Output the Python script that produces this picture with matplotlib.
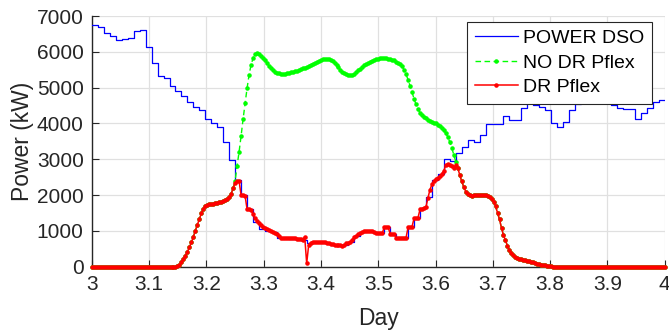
import numpy as np
import matplotlib
matplotlib.use("Agg")
import matplotlib.pyplot as plt

plt.rcParams['font.family'] = ['Liberation Sans', 'DejaVu Sans']

# ---------------- data ----------------
day_start = 3
dso_steps_per_day = 96      # 15-min steps
pflex_samples_per_day = 288  # 5-min samples

power_dso = [
    6750, 6700, 6530, 6440, 6320, 6350, 6380, 6570, 6620, 6130,
    5680, 5320, 5270, 5060, 4920, 4760, 4610, 4460, 4380, 4130,
    4020, 3890, 3490, 2980, 2420, 2000, 1620, 1257, 1060, 985,
    975, 795, 790, 785, 770, 740, 660, 690, 680, 650,
    620, 600, 600, 690, 870, 980, 1000, 970, 940, 1100,
    915, 810, 815, 1115, 1370, 1650, 1950, 2420, 2600, 3000,
    2960, 3167, 3335, 3539, 3492, 3670, 3978, 3978, 3978, 4210,
    4098, 4098, 4425, 4564, 4517, 4469, 4377, 4022, 3911, 4050,
    4380, 4540, 4650, 4720, 4780, 4740, 4680, 4515, 4420, 4400,
    4400, 4120, 4290, 4420, 4590, 4650,
]

nodr_pflex = [
    0, 0, 0, 0, 0, 0, 0, 0, 0, 0,
    0, 0, 0, 0, 0, 0, 0, 0, 0, 0,
    0, 0, 0, 0, 0, 0, 0, 0, 0, 0,
    0, 0, 0, 0, 0, 0, 0, 0, 0, 0,
    0, 0, 0, 12, 60, 130, 220, 310, 425, 540,
    680, 840, 1010, 1170, 1330, 1490, 1625, 1690, 1725, 1740,
    1752, 1765, 1775, 1785, 1795, 1810, 1835, 1865, 1905, 1955,
    2030, 2200, 2400, 2820, 3210, 3650, 4120, 4560, 4980, 5350,
    5630, 5820, 5930, 5960, 5930, 5880, 5830, 5760, 5680, 5610,
    5550, 5490, 5450, 5420, 5400, 5390, 5385, 5390, 5400, 5410,
    5425, 5440, 5455, 5470, 5490, 5510, 5535, 5560, 5587, 5615,
    5640, 5665, 5690, 5720, 5745, 5770, 5790, 5800, 5805, 5795,
    5775, 5740, 5690, 5630, 5570, 5500, 5440, 5400, 5370, 5350,
    5345, 5355, 5385, 5430, 5480, 5530, 5580, 5625, 5665, 5700,
    5730, 5755, 5775, 5795, 5810, 5820, 5822, 5820, 5815, 5805,
    5795, 5780, 5760, 5720, 5690, 5650, 5600, 5490, 5370, 5220,
    5050, 4870, 4690, 4530, 4400, 4300, 4230, 4180, 4140, 4110,
    4080, 4050, 4025, 4000, 3970, 3930, 3880, 3810, 3730, 3620,
    3480, 3310, 3130, 2930, 2760, 2560, 2380, 2230, 2100, 2030,
    1990, 1985, 1990, 1995, 2000, 2003, 2000, 1995, 1990, 1975,
    1950, 1890, 1810, 1690, 1500, 1320, 1080, 880, 740, 580,
    470, 390, 320, 275, 245, 222, 205, 190, 178, 165,
    150, 135, 120, 105, 90, 75, 62, 50, 38, 28,
    18, 10, 5, 2, 0, 0, 0, 0, 0, 0,
    0, 0, 0, 0, 0, 0, 0, 0, 0, 0,
    0, 0, 0, 0, 0, 0, 0, 0, 0, 0,
    0, 0, 0, 0, 0, 0, 0, 0, 0, 0,
    0, 0, 0, 0, 0, 0, 0, 0, 0, 0,
    0, 0, 0, 0, 0, 0, 0, 0, 0,
]

dr_pflex = [
    0, 0, 0, 0, 0, 0, 0, 0, 0, 0,
    0, 0, 0, 0, 0, 0, 0, 0, 0, 0,
    0, 0, 0, 0, 0, 0, 0, 0, 0, 0,
    0, 0, 0, 0, 0, 0, 0, 0, 0, 0,
    0, 0, 0, 12, 60, 130, 220, 310, 425, 540,
    680, 840, 1010, 1170, 1330, 1490, 1625, 1690, 1725, 1740,
    1752, 1765, 1775, 1785, 1795, 1810, 1835, 1865, 1905, 1955,
    2030, 2200, 2340, 2380, 2390, 2000, 1995, 1985, 1610, 1600,
    1590, 1460, 1360, 1290, 1230, 1160, 1110, 1072, 1040, 1015,
    990, 960, 935, 900, 850, 815, 800, 795, 793, 793,
    792, 790, 790, 788, 785, 775, 760, 838, 95, 606,
    670, 698, 695, 690, 688, 685, 682, 680, 670, 655,
    640, 625, 612, 606, 610, 600, 590, 600, 650, 670,
    690, 760, 830, 870, 905, 935, 965, 990, 1000, 1000,
    995, 985, 965, 950, 940, 935, 935, 1100, 1100, 1100,
    915, 912, 910, 810, 800, 805, 810, 810, 815, 1100,
    1110, 1120, 1350, 1360, 1370, 1600, 1620, 1650, 1670, 1920,
    2150, 2300, 2380, 2450, 2490, 2530, 2600, 2680, 2840, 2870,
    2850, 2810, 2760, 2840, 2760, 2560, 2380, 2230, 2100, 2030,
    1990, 1985, 1990, 1995, 2000, 2003, 2000, 1995, 1990, 1975,
    1950, 1890, 1810, 1690, 1500, 1320, 1080, 880, 740, 580,
    470, 390, 320, 275, 245, 222, 205, 190, 178, 165,
    150, 135, 120, 105, 90, 75, 62, 50, 38, 28,
    18, 10, 5, 2, 0, 0, 0, 0, 0, 0,
    0, 0, 0, 0, 0, 0, 0, 0, 0, 0,
    0, 0, 0, 0, 0, 0, 0, 0, 0, 0,
    0, 0, 0, 0, 0, 0, 0, 0, 0, 0,
    0, 0, 0, 0, 0, 0, 0, 0, 0, 0,
    0, 0, 0, 0, 0, 0, 0, 0, 0,
]

series_labels = ["POWER DSO", "NO DR Pflex", "DR Pflex"]
x_ticks = [3, 3.1, 3.2, 3.3, 3.4, 3.5, 3.6, 3.7, 3.8, 3.9, 4]
x_tick_labels = ["3", "3.1", "3.2", "3.3", "3.4", "3.5", "3.6", "3.7", "3.8", "3.9", "4"]
y_ticks = [0, 1000, 2000, 3000, 4000, 5000, 6000, 7000]
x_label = "Day"
y_label = "Power (kW)"

# ---------------- plot ----------------
axis_color = '#262626'
fig = plt.figure(figsize=(6.69, 3.33), dpi=100)
ax = fig.add_axes([0.1375, 0.199, 0.8558, 0.7529])

t_dso = day_start + np.arange(len(power_dso) + 1) / dso_steps_per_day
y_dso = list(power_dso) + [power_dso[-1]]
t_flex = day_start + np.arange(len(dr_pflex)) / pflex_samples_per_day

ax.plot(t_dso, y_dso, drawstyle='steps-post', color=(0, 0, 1), lw=0.9,
        label=series_labels[0], zorder=3)
ax.plot(t_flex, nodr_pflex, color=(0, 1, 0), ls=(0, (4, 2.5)), lw=1.0,
        marker='.', ms=4.5, label=series_labels[1], zorder=4, clip_on=False)
ax.plot(t_flex, dr_pflex, color=(1, 0, 0), lw=1.1,
        marker='.', ms=4.5, label=series_labels[2], zorder=5, clip_on=False)

ax.set_xlim(3, 4)
ax.set_ylim(0, 7000)
ax.set_xticks(x_ticks)
ax.set_xticklabels(x_tick_labels)
ax.set_yticks(y_ticks)

ax.grid(True, color='#e0e0e0', lw=0.9)
ax.set_axisbelow(True)
for s in ['top', 'right']:
    ax.spines[s].set_visible(False)
for s in ['left', 'bottom']:
    ax.spines[s].set_color(axis_color)
    ax.spines[s].set_linewidth(1.0)
    ax.spines[s].set_zorder(2)

ax.tick_params(direction='in', length=5, width=0.8, colors=axis_color,
               labelsize=15, pad=6)
ax.set_xlabel(x_label, fontsize=16.5, color=axis_color, labelpad=9)
ax.set_ylabel(y_label, fontsize=16.5, color=axis_color, labelpad=2)

leg = ax.legend(loc='upper right', bbox_to_anchor=(0.979, 0.977),
                borderaxespad=0, fontsize=14, handlelength=2.2,
                handletextpad=0.3, labelspacing=0.35, borderpad=0.4,
                fancybox=False, framealpha=1, edgecolor=axis_color)
leg.get_frame().set_linewidth(0.8)
leg.set_zorder(10)

fig.savefig('out.png', dpi=100)
